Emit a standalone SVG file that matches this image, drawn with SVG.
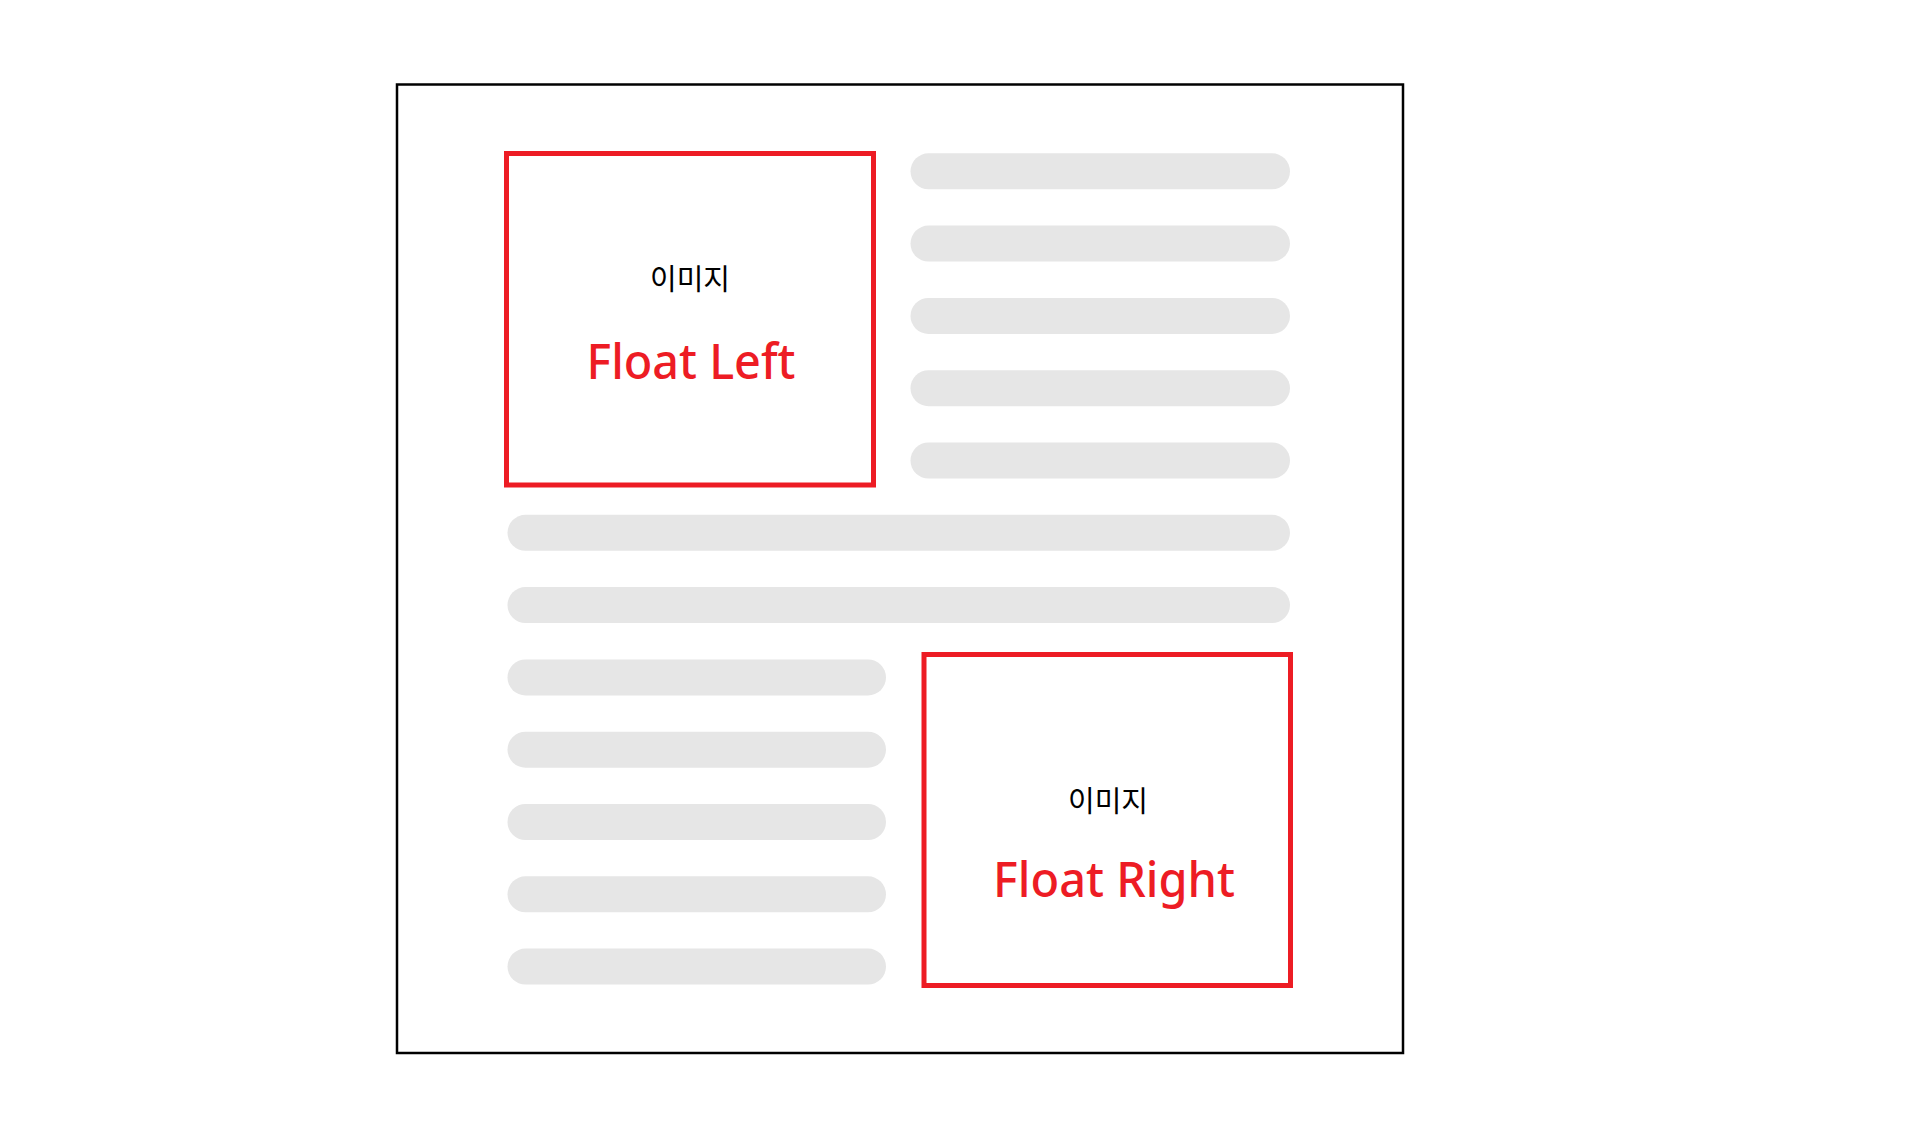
<svg xmlns="http://www.w3.org/2000/svg" width="1916" height="1148" viewBox="0 0 1916 1148">
  <style>
    .page { fill: #ffffff; stroke: #000000; stroke-width: 2.5; }
    .img { fill: #ffffff; stroke: #ed1c24; stroke-width: 5; }
    .line { fill: #e6e6e6; }
    .ko { font-family: "Noto Sans CJK KR", "Noto Sans", sans-serif; font-size: 29px; fill: #000000; text-anchor: middle; }
    .tag { font-family: "Noto Sans", "Open Sans", sans-serif; font-size: 49px; font-weight: 500; fill: #ed1c24; text-anchor: middle; }
  </style>
  <rect width="1916" height="1148" fill="#ffffff"/>

  <!-- page container -->
  <rect id="page" class="page" x="397" y="84.5" width="1006" height="968.5"/>

  <!-- text lines flowing around the floated images -->
  <g id="text-lines">
    <rect class="line" x="910.5" y="153.3" width="379.5" height="36" rx="18"/>
    <rect class="line" x="910.5" y="225.6" width="379.5" height="36" rx="18"/>
    <rect class="line" x="910.5" y="297.9" width="379.5" height="36" rx="18"/>
    <rect class="line" x="910.5" y="370.2" width="379.5" height="36" rx="18"/>
    <rect class="line" x="910.5" y="442.5" width="379.5" height="36" rx="18"/>
    <rect class="line" x="507.5" y="514.8" width="782.5" height="36" rx="18"/>
    <rect class="line" x="507.5" y="587.1" width="782.5" height="36" rx="18"/>
    <rect class="line" x="507.5" y="659.4" width="378.5" height="36" rx="18"/>
    <rect class="line" x="507.5" y="731.7" width="378.5" height="36" rx="18"/>
    <rect class="line" x="507.5" y="804" width="378.5" height="36" rx="18"/>
    <rect class="line" x="507.5" y="876.3" width="378.5" height="36" rx="18"/>
    <rect class="line" x="507.5" y="948.6" width="378.5" height="36" rx="18"/>
  </g>

  <!-- floated image on the left -->
  <g id="float-left">
    <rect class="img" x="506.5" y="153.5" width="367" height="331.5"/>
    <text class="ko" x="690" y="289.5">이미지</text>
    <text class="tag" x="691" y="379" textLength="209" lengthAdjust="spacingAndGlyphs">Float Left</text>
  </g>

  <!-- floated image on the right -->
  <g id="float-right">
    <rect class="img" x="924" y="654.5" width="366.5" height="331"/>
    <text class="ko" x="1108" y="812">이미지</text>
    <text class="tag" x="1114" y="896.5" textLength="242" lengthAdjust="spacingAndGlyphs">Float Right</text>
  </g>

  <g id="connectors"/>
</svg>
